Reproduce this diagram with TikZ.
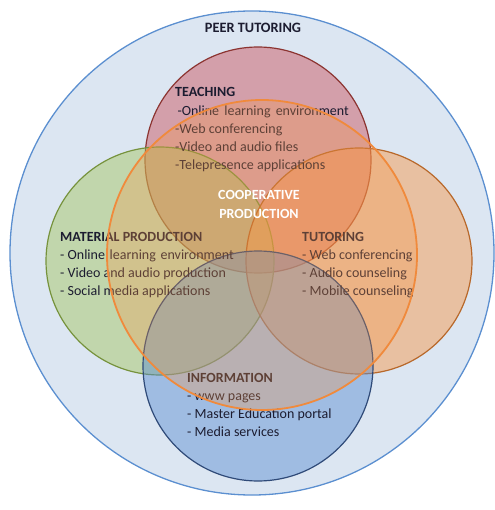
\documentclass[tikz,border=0pt]{standalone}
\usepackage{fontspec}
\setmainfont{Carlito}
\definecolor{bigF}{HTML}{DCE6F2}
\definecolor{bigD}{HTML}{5B8FD0}
\definecolor{redF}{HTML}{C9505A}
\definecolor{redD}{HTML}{8C3431}
\definecolor{grnF}{HTML}{A3C45E}
\definecolor{grnD}{HTML}{76923C}
\definecolor{oraF}{HTML}{F79646}
\definecolor{oraD}{HTML}{B8682A}
\definecolor{bluF}{HTML}{5B8DD0}
\definecolor{bluD}{HTML}{2F4A78}
\definecolor{cenD}{HTML}{F08A3C}
\definecolor{txtc}{HTML}{1C1C30}
\begin{document}
\begin{tikzpicture}[x=1pt,y=-1pt,
  venn/.style={circle, inner sep=0pt, line width=1.2pt, fill opacity=0.47},
  txt/.style={anchor=north west, inner sep=0pt, align=left, text=txtc,
    font=\fontsize{14}{18}\selectfont},
  head/.style={font=\fontsize{14.3}{18}\selectfont\bfseries}]
\useasboundingbox (0,0) rectangle (494,510);
\node[circle, inner sep=0pt, minimum size=484pt, fill=bigF, draw=bigD, line width=1.3pt] (peer) at (252,253) {};
\node[head, text=txtc] (peerlbl) at (253,28) {PEER TUTORING};
\node[venn, fill=redF, draw=redD, minimum size=226pt] (teach) at (258,160) {};
\node[venn, fill=grnF, draw=grnD, minimum size=228pt] (mat) at (160,261) {};
\node[venn, fill=oraF, draw=oraD, minimum size=226pt] (tut) at (359,261) {};
\node[venn, fill=bluF, draw=bluD, minimum size=230pt] (info) at (258,366) {};
\node[txt] (teachtxt) at (175,87) {\textbf{TEACHING}\\[1pt]
 \,-Online\hspace{2pt} learning\hspace{2pt} environment\\
 -Web conferencing\\
 -Video and audio files\\
 -Telepresence applications};
\node[txt] (mattxt) at (60,232) {\textbf{MATERIAL PRODUCTION}\\
 - Online\hspace{1.5pt} learning\hspace{1.5pt} environment\\
 - Video and audio production\\
 - Social media applications};
\node[txt] (tuttxt) at (302,232) {\textbf{TUTORING}\\
 - Web conferencing\\
 - Audio counseling\\
 - Mobile counseling};
\node[txt] (infotxt) at (187,373) {\textbf{INFORMATION}\\
 - www pages\\
 - Master Education portal\\
 - Media services};
\node[circle, inner sep=0pt, minimum size=310pt, fill=oraF, fill opacity=0.3, draw=cenD, line width=1.8pt] (coop) at (262,255) {};
\node[align=center, text=white, font=\fontsize{14}{19}\selectfont\bfseries] (cooptxt) at (259,204) {COOPERATIVE\\PRODUCTION};
\end{tikzpicture}
\end{document}
